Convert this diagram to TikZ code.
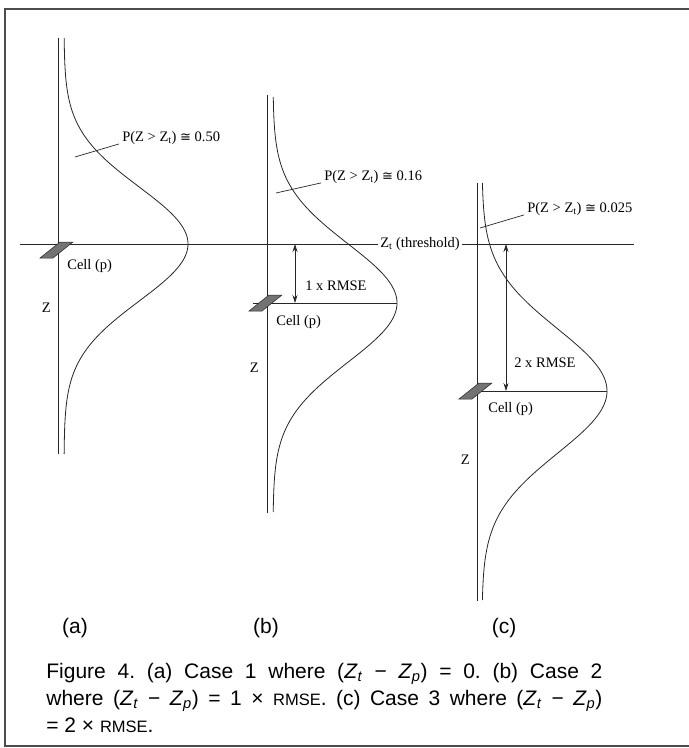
\documentclass[tikz,border=0pt]{standalone}
\usepackage{fontspec}
\setmainfont{Liberation Serif}
\setsansfont{Liberation Sans}
\newfontfamily\symfont{DejaVu Sans}
\usetikzlibrary{arrows.meta,positioning,calc}
\frenchspacing

\begin{document}
\begin{tikzpicture}[x=1pt, y=-1pt, >={Stealth[length=8pt,width=5pt]}, line width=0.7pt, draw=black!85]
\tikzset{
  lbl/.style={font=\fontsize{14.5}{16}\selectfont, inner sep=1pt},
  panel/.style={font=\sffamily\fontsize{21}{24}\selectfont},
  capt/.style={font=\sffamily\fontsize{21}{27}\selectfont, inner sep=0pt, align=left},
  cellbox/.style={draw=black!85, fill=black!55, line width=0.5pt},
  curve/.style={line width=0.8pt, smooth, samples=150},
}
\useasboundingbox (0,0) rectangle (689,748);
% frame
\draw[line width=1.2pt, black!70] (689,9) -- (5,9) -- (5,746) -- (689,746);

% threshold line
\coordinate (thL) at (20,244);
\coordinate (thR) at (634,244);
\node[lbl, anchor=west, inner sep=2pt] (thr) at (378,244) {Z\textsubscript{t} (threshold)};
\draw (thL) -- (thr.west);
\draw (thr.east) -- (thR);

% (a)
\coordinate (aTop) at (58,38);
\coordinate (aBot) at (58,454);
\draw (aTop) -- (aBot);
\draw[curve] plot[domain=38:454] ({64+124*exp(-0.5*((\x-244)/57)^2)}, \x);
\draw[cellbox, shift={(58,250)}] (2,-8) -- (15,-8) -- (-5,8) -- (-18,8) -- cycle;
\node[lbl, anchor=west] (cellA) at (66,266) {Cell (p)};
\node[lbl, anchor=east] (zA) at (52,308) {Z};
\node[lbl, anchor=west] (pA) at (121,138) {P(Z > Z\textsubscript{t}) {\symfont\fontsize{13}{16}\selectfont ≅} 0.50};
\coordinate (leadA) at (75,157);
\draw (leadA) -- ([shift={(-2pt,2pt)}]pA.south west);

% (b)
\coordinate (bTop) at (267,95);
\coordinate (bBot) at (267,513);
\draw (bTop) -- (bBot);
\draw[curve] plot[domain=97:512] ({273+124*exp(-0.5*((\x-303)/59)^2)}, \x);
\coordinate (bL) at (253,303);
\coordinate (bR) at (397,303);
\draw (bL) -- (bR);
\draw[cellbox, shift={(267,303)}] (2,-8) -- (15,-8) -- (-5,8) -- (-18,8) -- cycle;
\coordinate (bArrTop) at (295,244);
\coordinate (bArrBot) at (295,303);
\draw[<->] (bArrTop) -- (bArrBot);
\node[lbl, anchor=west] (rmseB) at (304,286) {1 x RMSE};
\node[lbl, anchor=west] (cellB) at (275,322) {Cell (p)};
\node[lbl, anchor=east] (zB) at (260,368) {Z};
\node[lbl, anchor=west] (pB) at (323,177) {P(Z > Z\textsubscript{t}) {\symfont\fontsize{13}{16}\selectfont ≅} 0.16};
\coordinate (leadB) at (276,193);
\draw (leadB) -- ([shift={(-2pt,2pt)}]pB.south west);

% (c)
\coordinate (cTop) at (477,183);
\coordinate (cBot) at (477,601);
\draw (cTop) -- (cBot);
\draw[curve] plot[domain=183:600] ({482+125*exp(-0.5*((\x-391)/62)^2)}, \x);
\coordinate (cL) at (470,391);
\coordinate (cR) at (607,391);
\draw (cL) -- (cR);
\draw[cellbox, shift={(477,391)}] (2,-8) -- (15,-8) -- (-5,8) -- (-18,8) -- cycle;
\coordinate (cArrTop) at (506,244);
\coordinate (cArrBot) at (506,391);
\draw[<->] (cArrTop) -- (cArrBot);
\node[lbl, anchor=west] (rmseC) at (513,363) {2 x RMSE};
\node[lbl, anchor=west] (cellC) at (487,409) {Cell (p)};
\node[lbl, anchor=east] (zC) at (471,460) {Z};
\node[lbl, anchor=west] (pC) at (526,209) {P(Z > Z\textsubscript{t}) {\symfont\fontsize{13}{16}\selectfont ≅} 0.025};
\coordinate (leadC) at (480,228);
\draw (leadC) -- ([shift={(-2pt,2pt)}]pC.south west);

% panel letters
\node[panel] (labA) at (75,628) {(a)};
\node[panel] (labB) at (266,628) {(b)};
\node[panel] (labC) at (504,628) {(c)};

% caption
\node[capt, anchor=north west] (caption) at (46,663) {%
\makebox[556pt][s]{Figure 4. (a) Case 1 where (\textit{Z}\textsubscript{\textit{t}} − \textit{Z}\textsubscript{\textit{p}}) = 0. (b) Case 2}\\
\makebox[556pt][s]{where (\textit{Z}\textsubscript{\textit{t}} − \textit{Z}\textsubscript{\textit{p}}) = 1 × {\fontsize{16.5}{20}\selectfont RMSE}. (c) Case 3 where (\textit{Z}\textsubscript{\textit{t}} − \textit{Z}\textsubscript{\textit{p}})}\\
= 2 × {\fontsize{16.5}{20}\selectfont RMSE}.};
\end{tikzpicture}
\end{document}
